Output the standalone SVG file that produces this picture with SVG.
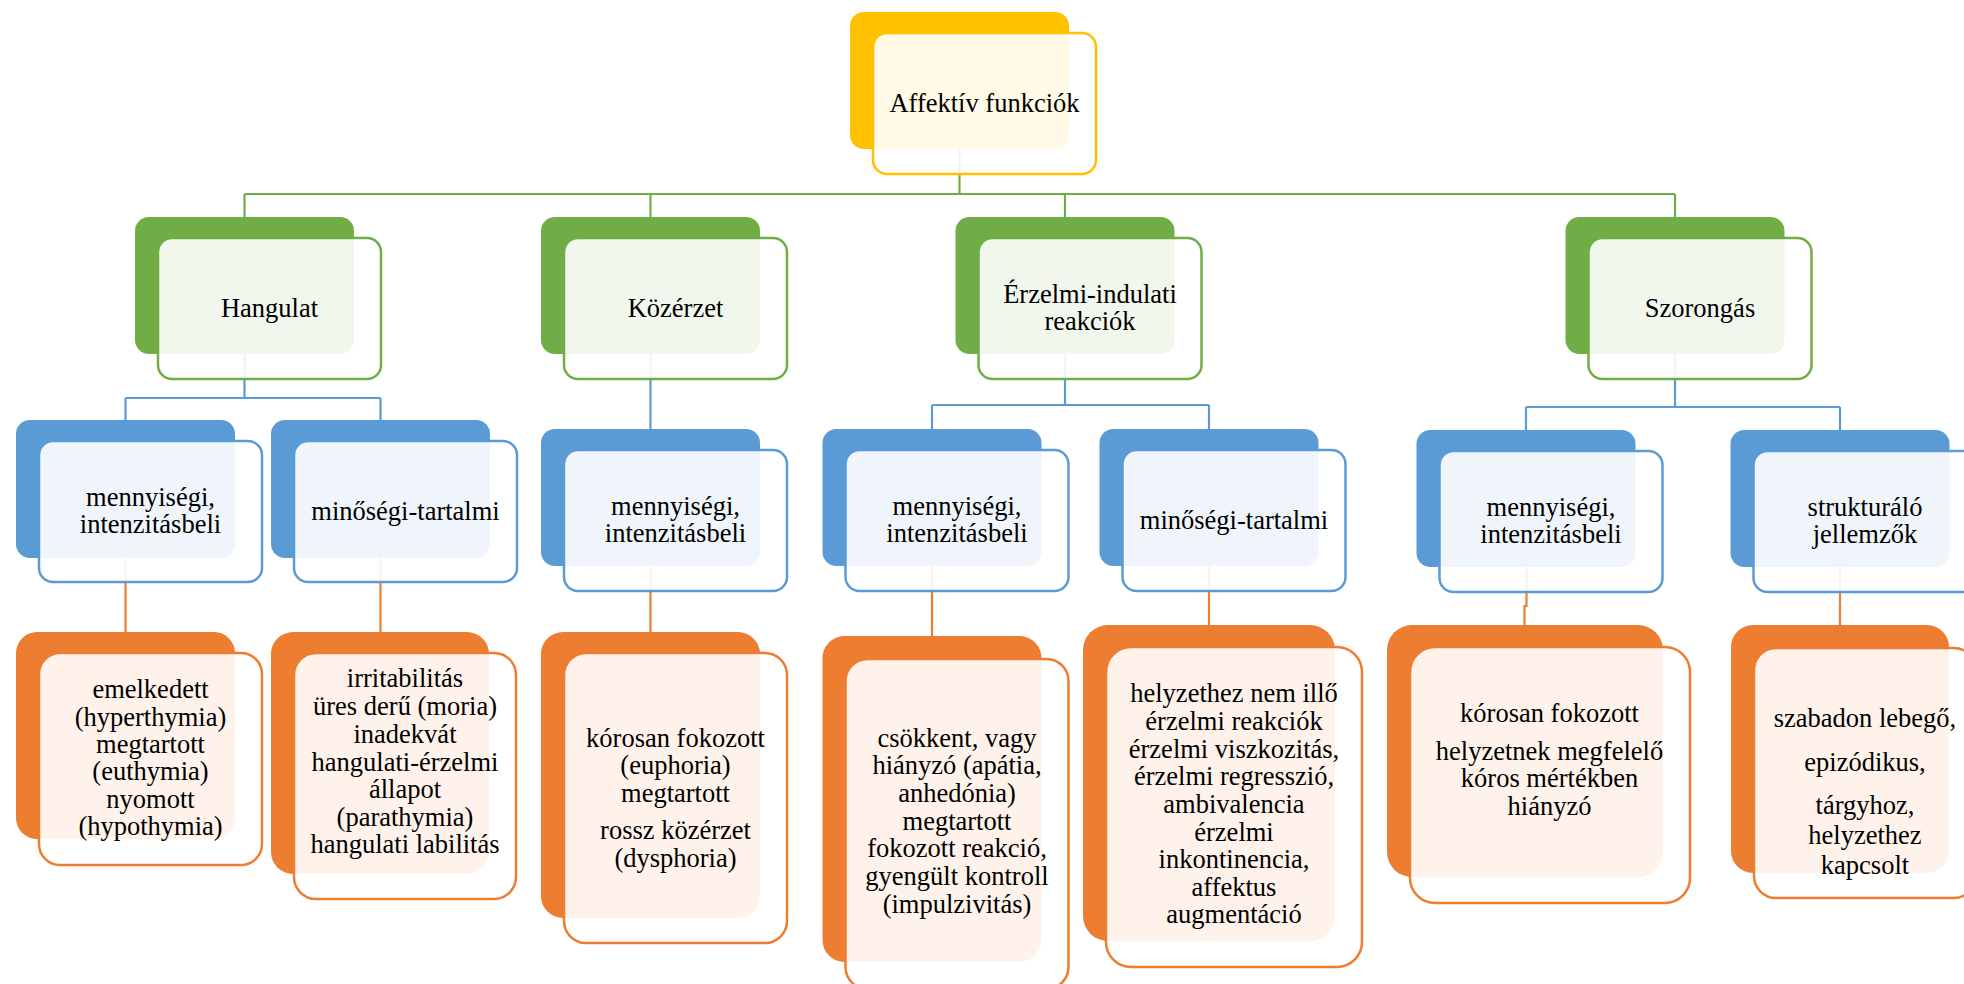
<svg xmlns="http://www.w3.org/2000/svg" width="1964" height="984" viewBox="0 0 1964 984">
<defs>
<style>
.bg{fill:#ffffff}
.fy{fill:#FFC000}.fg{fill:#70AD47}.fb{fill:#5B9BD5}.fo{fill:#ED7D31}
.o{fill:#ffffff;fill-opacity:0.9;stroke-width:2.5}
.oy{stroke:#FFC000}.og{stroke:#70AD47}.ob{stroke:#5B9BD5}.oo{stroke:#ED7D31}
.c{fill:none;stroke-width:2.2}
.cg{stroke:#70AD47}.cb{stroke:#5B9BD5}.co{stroke:#ED7D31}
.t{font-family:"Liberation Serif","Times New Roman",serif;font-size:26.5px;text-anchor:middle;fill:#000000}
</style>
</defs>
<rect class="bg" x="0" y="0" width="1964" height="984"/>
<g id="connectors">
<path class="c cg" d="M959.5 149V194M244.5 194H1675M244.5 194V217M650.5 194V217M1065 194V217M1675 194V217"/>
<path class="c cb" d="M244.5 354V398M125.5 398H380.5M125.5 398V420M380.5 398V420"/>
<path class="c cb" d="M650.5 354V429"/>
<path class="c cb" d="M1065 354V405M932 405H1209M932 405V429M1209 405V429"/>
<path class="c cb" d="M1675 354V407M1526 407H1840M1526 407V430M1840 407V430"/>
<path class="c co" d="M125.5 558V632M380.5 558V632M650.5 566V632M932 566V636M1209 566V625M1526.5 567V606H1524.5V625M1840 567V625"/>
</g>
<g id="root">
<rect class="fy" x="850" y="12" width="219" height="137" rx="14"/>
<rect class="o oy" x="873" y="33" width="223" height="141" rx="14"/>
<text class="t" x="984.5" y="112">Affektív funkciók</text>
</g>
<g id="hangulat">
<rect class="fg" x="135" y="217" width="219" height="137" rx="14"/>
<rect class="o og" x="158" y="238" width="223" height="141" rx="14"/>
<text class="t" x="269.5" y="317">Hangulat</text>
</g>
<g id="kozerzet">
<rect class="fg" x="541" y="217" width="219" height="137" rx="14"/>
<rect class="o og" x="564" y="238" width="223" height="141" rx="14"/>
<text class="t" x="675.5" y="317">Közérzet</text>
</g>
<g id="erzelmi">
<rect class="fg" x="955.5" y="217" width="219" height="137" rx="14"/>
<rect class="o og" x="978.5" y="238" width="223" height="141" rx="14"/>
<text class="t"><tspan x="1090" y="303">Érzelmi-indulati</tspan><tspan x="1090" y="330">reakciók</tspan></text>
</g>
<g id="szorongas">
<rect class="fg" x="1565.5" y="217" width="219" height="137" rx="14"/>
<rect class="o og" x="1588.5" y="238" width="223" height="141" rx="14"/>
<text class="t" x="1700" y="317">Szorongás</text>
</g>
<g id="hangulat-mennyisegi">
<rect class="fb" x="16" y="420" width="219" height="138" rx="14"/>
<rect class="o ob" x="39" y="441" width="223" height="141" rx="14"/>
<text class="t"><tspan x="150.5" y="506">mennyiségi,</tspan><tspan x="150.5" y="533">intenzitásbeli</tspan></text>
</g>
<g id="hangulat-minosegi">
<rect class="fb" x="271" y="420" width="219" height="138" rx="14"/>
<rect class="o ob" x="294" y="441" width="223" height="141" rx="14"/>
<text class="t" x="405.5" y="520">minőségi-tartalmi</text>
</g>
<g id="kozerzet-mennyisegi">
<rect class="fb" x="541" y="429" width="219" height="137" rx="14"/>
<rect class="o ob" x="564" y="450" width="223" height="141" rx="14"/>
<text class="t"><tspan x="675.5" y="515">mennyiségi,</tspan><tspan x="675.5" y="542">intenzitásbeli</tspan></text>
</g>
<g id="erzelmi-mennyisegi">
<rect class="fb" x="822.5" y="429" width="219" height="137" rx="14"/>
<rect class="o ob" x="845.5" y="450" width="223" height="141" rx="14"/>
<text class="t"><tspan x="957" y="515">mennyiségi,</tspan><tspan x="957" y="542">intenzitásbeli</tspan></text>
</g>
<g id="erzelmi-minosegi">
<rect class="fb" x="1099.5" y="429" width="219" height="137" rx="14"/>
<rect class="o ob" x="1122.5" y="450" width="223" height="141" rx="14"/>
<text class="t" x="1234" y="529">minőségi-tartalmi</text>
</g>
<g id="szorongas-mennyisegi">
<rect class="fb" x="1416.5" y="430" width="219" height="137" rx="14"/>
<rect class="o ob" x="1439.5" y="451" width="223" height="141" rx="14"/>
<text class="t"><tspan x="1551" y="516">mennyiségi,</tspan><tspan x="1551" y="543">intenzitásbeli</tspan></text>
</g>
<g id="szorongas-strukturalo">
<rect class="fb" x="1730.5" y="430" width="219" height="137" rx="14"/>
<rect class="o ob" x="1753.5" y="451" width="223" height="141" rx="14"/>
<text class="t"><tspan x="1865" y="516">strukturáló</tspan><tspan x="1865" y="543">jellemzők</tspan></text>
</g>
<g id="hangulat-mennyisegi-items">
<rect class="fo" x="16" y="632" width="219" height="207" rx="21"/>
<rect class="o oo" x="39" y="653" width="223" height="212" rx="21"/>
<text class="t"><tspan x="150.5" y="698">emelkedett</tspan><tspan x="150.5" y="726">(hyperthymia)</tspan><tspan x="150.5" y="753">megtartott</tspan><tspan x="150.5" y="780">(euthymia)</tspan><tspan x="150.5" y="808">nyomott</tspan><tspan x="150.5" y="835">(hypothymia)</tspan></text>
</g>
<g id="hangulat-minosegi-items">
<rect class="fo" x="271" y="632" width="218" height="242" rx="22"/>
<rect class="o oo" x="294" y="653" width="222" height="246" rx="22"/>
<text class="t"><tspan x="405" y="687">irritabilitás</tspan><tspan x="405" y="715">üres derű (moria)</tspan><tspan x="405" y="743">inadekvát</tspan><tspan x="405" y="771">hangulati-érzelmi</tspan><tspan x="405" y="798">állapot</tspan><tspan x="405" y="826">(parathymia)</tspan><tspan x="405" y="853">hangulati labilitás</tspan></text>
</g>
<g id="kozerzet-items">
<rect class="fo" x="541" y="632" width="219" height="286" rx="22"/>
<rect class="o oo" x="564" y="653" width="223" height="290" rx="22"/>
<text class="t"><tspan x="675.5" y="747">kórosan fokozott</tspan><tspan x="675.5" y="774">(euphoria)</tspan><tspan x="675.5" y="802">megtartott</tspan><tspan x="675.5" y="839">rossz közérzet</tspan><tspan x="675.5" y="867">(dysphoria)</tspan></text>
</g>
<g id="erzelmi-mennyisegi-items">
<rect class="fo" x="822.5" y="636" width="219" height="326" rx="22"/>
<rect class="o oo" x="845.5" y="659" width="223" height="330" rx="22"/>
<text class="t"><tspan x="957" y="747">csökkent, vagy</tspan><tspan x="957" y="774">hiányzó (apátia,</tspan><tspan x="957" y="802">anhedónia)</tspan><tspan x="957" y="830">megtartott</tspan><tspan x="957" y="857">fokozott reakció,</tspan><tspan x="957" y="885">gyengült kontroll</tspan><tspan x="957" y="913">(impulzivitás)</tspan></text>
</g>
<g id="erzelmi-minosegi-items">
<rect class="fo" x="1083" y="625" width="252" height="316" rx="25"/>
<rect class="o oo" x="1106" y="647" width="256" height="320" rx="25"/>
<text class="t"><tspan x="1234" y="702">helyzethez nem illő</tspan><tspan x="1234" y="730">érzelmi reakciók</tspan><tspan x="1234" y="758">érzelmi viszkozitás,</tspan><tspan x="1234" y="785">érzelmi regresszió,</tspan><tspan x="1234" y="813">ambivalencia</tspan><tspan x="1234" y="841">érzelmi</tspan><tspan x="1234" y="868">inkontinencia,</tspan><tspan x="1234" y="896">affektus</tspan><tspan x="1234" y="923">augmentáció</tspan></text>
</g>
<g id="szorongas-mennyisegi-items">
<rect class="fo" x="1387" y="625" width="276" height="252" rx="25"/>
<rect class="o oo" x="1410" y="647" width="280" height="256" rx="25"/>
<text class="t"><tspan x="1549.5" y="722">kórosan fokozott</tspan><tspan x="1549.5" y="760">helyzetnek megfelelő</tspan><tspan x="1549.5" y="787">kóros mértékben</tspan><tspan x="1549.5" y="815">hiányzó</tspan></text>
</g>
<g id="szorongas-strukturalo-items">
<rect class="fo" x="1731" y="625" width="218" height="248" rx="22"/>
<rect class="o oo" x="1754" y="648" width="222" height="250" rx="22"/>
<text class="t"><tspan x="1865" y="727">szabadon lebegő,</tspan><tspan x="1865" y="771">epizódikus,</tspan><tspan x="1865" y="814">tárgyhoz,</tspan><tspan x="1865" y="844">helyzethez</tspan><tspan x="1865" y="874">kapcsolt</tspan></text>
</g>
</svg>
